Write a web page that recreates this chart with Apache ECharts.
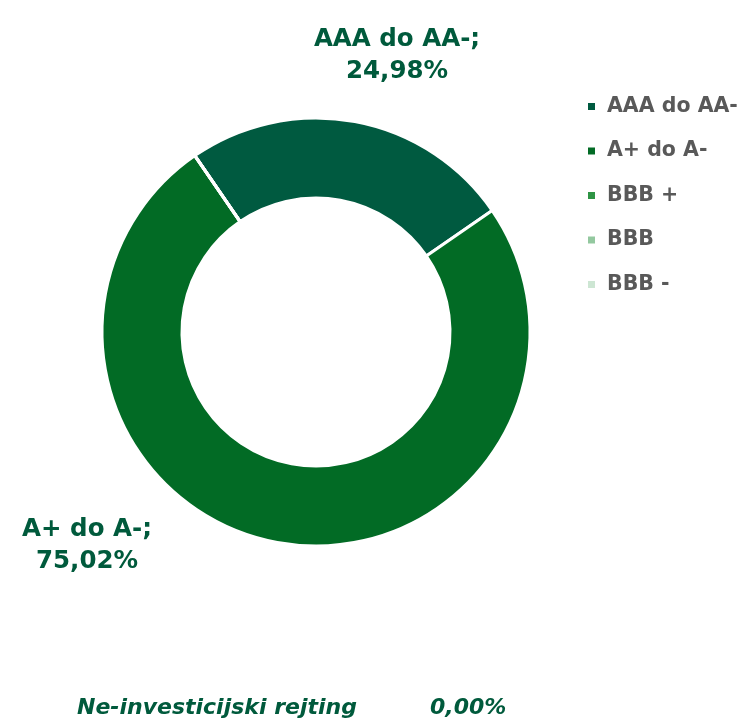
<!DOCTYPE html>
<html>
<head>
<meta charset="utf-8">
<script src="https://cdn.jsdelivr.net/npm/echarts@6/dist/echarts.min.js"></script>
<style>html,body{margin:0;padding:0;background:#fff}#c{width:747px;height:719px}</style>
</head>
<body>
<div id="c"></div>
<script>
const categories = ['AAA do AA-', 'A+ do A-', 'BBB +', 'BBB', 'BBB -'];
const values = [24.98, 75.02, 0, 0, 0];
const colors = ['#005A40', '#026B25', '#2E9444', '#93C89F', '#CDE6D3'];
const labelPos = [[397, 56], [87, 546]];
const footerName = 'Ne-investicijski rejting';
const footerValue = '0,00%';

const fmt = v => v.toFixed(2).replace('.', ',') + '%';
const data = categories.map((name, i) => ({
  name: name,
  value: values[i],
  itemStyle: { color: colors[i] },
  label: { show: values[i] > 0 }
}));

const chart = echarts.init(document.getElementById('c'), null, { renderer: 'canvas' });
chart.setOption({
  animation: false,
  legend: {
    orient: 'vertical',
    left: 581,
    top: 91,
    icon: 'rect',
    itemWidth: 9,
    itemHeight: 9,
    itemGap: 23.5,
    data: categories,
    textStyle: { color: '#595959', fontSize: 20.5, fontWeight: 'bold', fontFamily: 'DejaVu Sans', lineHeight: 21, padding: [0, 0, 0, 6] }
  },
  series: [{
    type: 'pie',
    center: [316, 332],
    radius: [134, 214],
    startAngle: 124.5,
    clockwise: true,
    avoidLabelOverlap: false,
    itemStyle: { borderColor: '#ffffff', borderWidth: 3 },
    label: {
      show: true,
      position: 'outside',
      formatter: p => p.name + ';\n' + fmt(p.value),
      color: '#005A3C',
      fontSize: 24.5,
      fontWeight: 'bold',
      fontFamily: 'DejaVu Sans',
      lineHeight: 32,
      align: 'center'
    },
    labelLine: { show: false },
    labelLayout: function (params) {
      const p = labelPos[params.dataIndex];
      if (!p) return {};
      return { x: p[0], y: p[1], align: 'center', verticalAlign: 'middle' };
    },
    emphasis: { disabled: true },
    data: data
  }],
  graphic: [
    { type: 'text', left: 77, top: 697, style: { text: footerName, fill: '#005A3C', font: 'italic bold 22px "DejaVu Sans"' } },
    { type: 'text', left: 430, top: 697, style: { text: footerValue, fill: '#005A3C', font: 'italic bold 22px "DejaVu Sans"' } }
  ]
});
</script>
</body>
</html>
